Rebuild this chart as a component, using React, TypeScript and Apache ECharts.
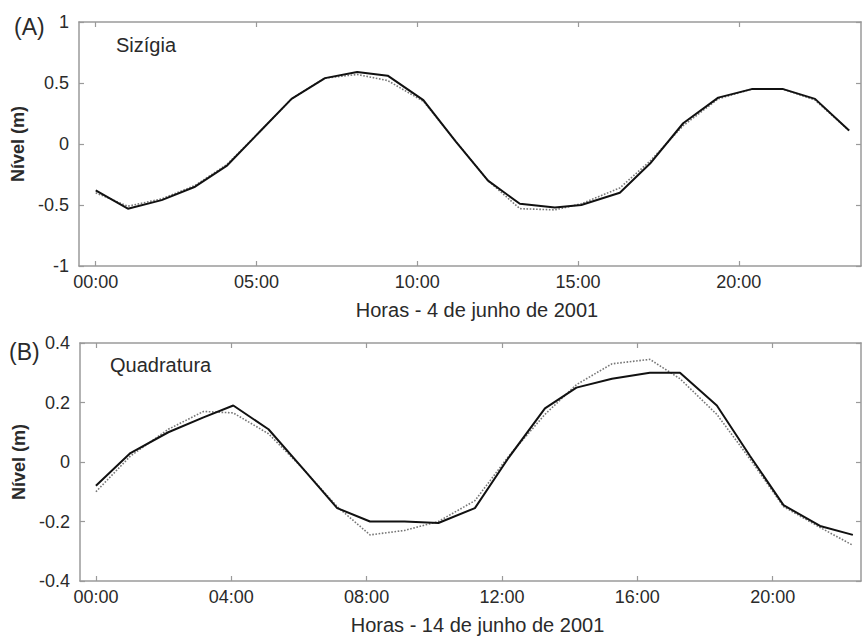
import React, { useEffect, useRef } from "react";
import * as echarts from "echarts";

// Panel A – Sizígia (4 de junho de 2001)
const hoursA = [0, 1.0, 2.05, 3.09, 4.07, 5.1, 6.09, 7.13, 8.13, 9.08, 10.19, 11.2, 12.2, 13.19, 14.28, 15.1, 16.3, 17.24, 18.27, 19.36, 20.4, 21.38, 22.37, 23.43];
const solidA = [-0.38, -0.53, -0.46, -0.35, -0.18, 0.1, 0.37, 0.54, 0.59, 0.56, 0.36, 0.02, -0.3, -0.49, -0.52, -0.5, -0.4, -0.16, 0.17, 0.38, 0.45, 0.45, 0.37, 0.11];
const dottedA = [-0.4, -0.51, -0.45, -0.34, -0.17, 0.1, 0.37, 0.54, 0.57, 0.52, 0.35, 0.02, -0.3, -0.53, -0.54, -0.49, -0.36, -0.14, 0.15, 0.37, 0.45, 0.45, 0.36, 0.11];
const ticksA = [0, 5, 10, 15, 20];

// Panel B – Quadratura (14 de junho de 2001)
const hoursB = [0, 1.02, 2.14, 3.18, 4.06, 5.1, 6.1, 7.13, 8.1, 9.12, 10.12, 11.2, 12.2, 13.27, 14.2, 15.25, 16.37, 17.26, 18.35, 19.33, 20.32, 21.4, 22.37];
const solidB = [-0.08, 0.03, 0.1, 0.15, 0.19, 0.11, -0.02, -0.155, -0.2, -0.2, -0.205, -0.155, 0.015, 0.18, 0.25, 0.28, 0.3, 0.3, 0.19, 0.02, -0.145, -0.215, -0.245];
const dottedB = [-0.1, 0.02, 0.11, 0.17, 0.165, 0.095, -0.02, -0.15, -0.245, -0.23, -0.2, -0.13, 0.02, 0.16, 0.26, 0.33, 0.345, 0.28, 0.16, 0.01, -0.15, -0.22, -0.28];
const ticksB = [0, 4, 8, 12, 16, 20];

const FONT = "'Liberation Sans', Arial, sans-serif";
const AXIS_COLOR = "#9a9a9a";
const TEXT_COLOR = "#2a2a2a";

const pair = (xs: number[], ys: number[]) => xs.map((x, i) => [x, ys[i]]);
const fmtHour = (v: number) => (v < 10 ? "0" : "") + Math.round(v) + ":00";

export default function App() {
  const ref = useRef<HTMLDivElement>(null);
  useEffect(() => {
    if (!ref.current) return;
    const chart = echarts.init(ref.current, undefined, { renderer: "svg" });

    const axisLine = { show: true, onZero: false, lineStyle: { color: AXIS_COLOR, width: 1.5 } };
    const tickIn = (vals?: number[]) => ({
      show: true,
      inside: true,
      length: 5,
      lineStyle: { color: AXIS_COLOR, width: 1.2 },
      ...(vals ? { customValues: vals } : {}),
    });

    const xAxisPair = (grid: number, min: number, max: number, ticks: number[], name: string) => [
      {
        type: "value",
        gridIndex: grid,
        position: "bottom",
        min,
        max,
        axisLine,
        axisTick: tickIn(ticks),
        splitLine: { show: false },
        axisLabel: {
          customValues: ticks,
          formatter: fmtHour,
          color: TEXT_COLOR,
          fontSize: 18,
          fontFamily: FONT,
          margin: 7,
        },
        name,
        nameLocation: "middle",
        nameGap: 34,
        nameTextStyle: { color: TEXT_COLOR, fontSize: 20, fontFamily: FONT, padding: [0, 0, 0, 14] },
      },
      {
        type: "value",
        gridIndex: grid,
        position: "top",
        min,
        max,
        axisLine,
        axisTick: tickIn(ticks),
        splitLine: { show: false },
        axisLabel: { show: false },
      },
    ];

    const yAxisPair = (grid: number, min: number, max: number, interval: number) => [
      {
        type: "value",
        gridIndex: grid,
        position: "left",
        min,
        max,
        interval,
        axisLine,
        axisTick: tickIn(),
        splitLine: { show: false },
        axisLabel: { color: TEXT_COLOR, fontSize: 18, fontFamily: FONT, margin: 10 },
        name: "Nível (m)",
        nameLocation: "middle",
        nameGap: 52,
        nameTextStyle: { color: TEXT_COLOR, fontSize: 18, fontWeight: "bold", fontFamily: FONT },
      },
      {
        type: "value",
        gridIndex: grid,
        position: "right",
        min,
        max,
        interval,
        axisLine,
        axisTick: tickIn(),
        splitLine: { show: false },
        axisLabel: { show: false },
      },
    ];

    const solid = { type: "line", symbol: "none", lineStyle: { color: "#111", width: 2 }, z: 3 };
    const dotted = { type: "line", symbol: "none", lineStyle: { color: "#777", width: 1.6, type: "dotted" }, z: 2 };

    chart.setOption({
      animation: false,
      backgroundColor: "#fff",
      grid: [
        { left: 79, top: 22, width: 782, height: 244 },
        { left: 80, top: 343, width: 781, height: 238 },
      ],
      xAxis: [
        ...xAxisPair(0, -0.52, 23.8, ticksA, "Horas - 4 de junho de 2001"),
        ...xAxisPair(1, -0.47, 22.61, ticksB, "Horas - 14 de junho de 2001"),
      ],
      yAxis: [...yAxisPair(0, -1, 1, 0.5), ...yAxisPair(1, -0.4, 0.4, 0.2)],
      series: [
        { ...dotted, name: "Simulado A", xAxisIndex: 0, yAxisIndex: 0, data: pair(hoursA, dottedA) },
        { ...solid, name: "Medido A", xAxisIndex: 0, yAxisIndex: 0, data: pair(hoursA, solidA) },
        { ...dotted, name: "Simulado B", xAxisIndex: 2, yAxisIndex: 2, data: pair(hoursB, dottedB) },
        { ...solid, name: "Medido B", xAxisIndex: 2, yAxisIndex: 2, data: pair(hoursB, solidB) },
      ],
      graphic: [
        { type: "text", left: 14, top: 15, style: { text: "(A)", fontSize: 23, fill: TEXT_COLOR, fontFamily: FONT } },
        { type: "text", left: 116, top: 35, style: { text: "Sizígia", fontSize: 20, fill: TEXT_COLOR, fontFamily: FONT } },
        { type: "text", left: 9, top: 340, style: { text: "(B)", fontSize: 23, fill: TEXT_COLOR, fontFamily: FONT } },
        { type: "text", left: 110, top: 355, style: { text: "Quadratura", fontSize: 20, fill: TEXT_COLOR, fontFamily: FONT } },
      ],
    });
    return () => chart.dispose();
  }, []);

  return (
    <div
      ref={ref}
      style={{ position: "fixed", left: 0, top: 0, width: 862, height: 636, background: "#fff" }}
    />
  );
}
